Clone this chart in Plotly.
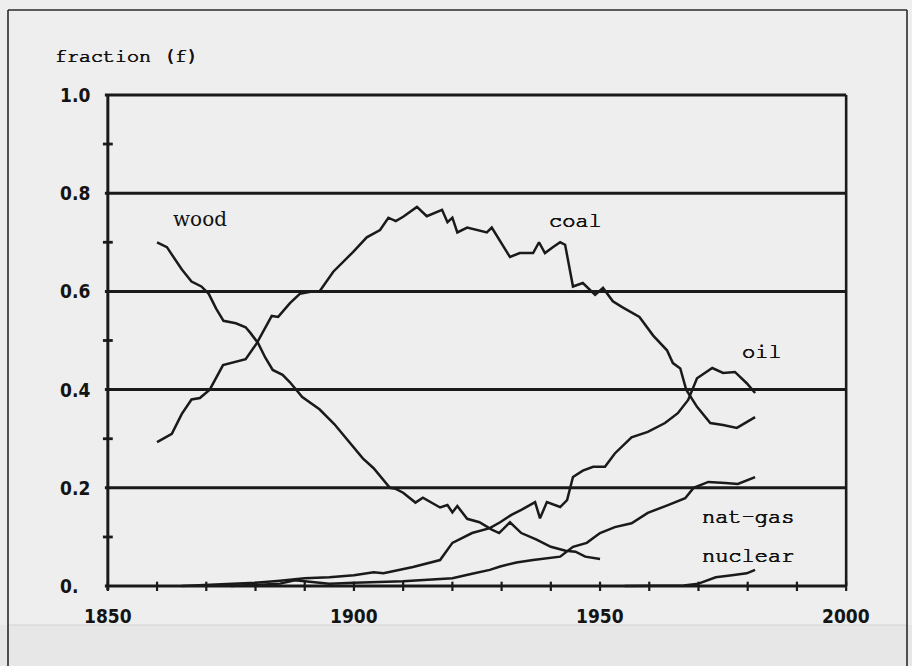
import plotly.graph_objects as go

# ---------------- data ----------------
wood_years = [1860, 1862, 1865, 1867, 1869, 1870.5, 1872, 1873.5, 1876, 1878, 1879, 1880.5,
              1882, 1883.5, 1885.5, 1887, 1889.5, 1891.7, 1893, 1896, 1898.5, 1901.8, 1904,
              1906, 1907.3, 1908.5, 1910, 1912.5, 1914, 1917.5, 1919, 1920, 1921, 1923,
              1925.5, 1928, 1929.5, 1931.7, 1934, 1937, 1940, 1943, 1945, 1947, 1950]
wood_vals = [0.70, 0.69, 0.645, 0.62, 0.61, 0.595, 0.565, 0.54, 0.535, 0.527, 0.515, 0.495,
             0.465, 0.44, 0.43, 0.415, 0.385, 0.37, 0.36, 0.33, 0.30, 0.26, 0.24,
             0.216, 0.20, 0.198, 0.19, 0.17, 0.18, 0.16, 0.165, 0.15, 0.163, 0.137,
             0.13, 0.115, 0.108, 0.13, 0.108, 0.095, 0.08, 0.072, 0.07, 0.06, 0.055]

coal_years = [1860, 1862, 1863, 1865, 1867, 1868.7, 1870.7, 1873.4, 1875, 1878, 1880.3,
              1883.3, 1884.6, 1887, 1889, 1891.7, 1893, 1895.8, 1899.8, 1902.6, 1905.3,
              1907, 1908.5, 1910, 1912.8, 1914.8, 1917.9, 1919, 1920, 1921, 1923, 1927,
              1928, 1931.7, 1933.7, 1936.4, 1937.6, 1938.8, 1940.4, 1941.9, 1942.9, 1944.5,
              1946.5, 1949, 1950.6, 1952.6, 1954.5, 1956.7, 1958, 1960.8, 1963.6, 1964.8,
              1966.3, 1967.5, 1969.7, 1972.4, 1975, 1977.8, 1979.8, 1981.5]
coal_vals = [0.293, 0.305, 0.31, 0.35, 0.38, 0.383, 0.40, 0.45, 0.454, 0.462, 0.495,
             0.55, 0.548, 0.576, 0.595, 0.60, 0.60, 0.64, 0.68, 0.71, 0.725,
             0.75, 0.743, 0.752, 0.772, 0.753, 0.766, 0.741, 0.75, 0.72, 0.73, 0.72,
             0.73, 0.67, 0.678, 0.678, 0.70, 0.678, 0.69, 0.70, 0.695, 0.61,
             0.617, 0.593, 0.607, 0.58, 0.568, 0.556, 0.548, 0.51, 0.48, 0.454,
             0.443, 0.40, 0.365, 0.332, 0.328, 0.322, 0.334, 0.344]

oil_years = [1865, 1870, 1875, 1880, 1885, 1890, 1895, 1900, 1904, 1906, 1912, 1916,
             1917.5, 1920, 1924, 1927.6, 1929.7, 1932, 1934, 1936.8, 1937.8, 1939.2,
             1941.9, 1943.3, 1944.5, 1946.5, 1948.6, 1951, 1953, 1956.4, 1959.7, 1963.2,
             1965.8, 1967.9, 1968.7, 1969.7, 1972.8, 1975, 1977.4, 1979.8, 1981.5]
oil_vals = [0.0, 0.002, 0.004, 0.007, 0.011, 0.016, 0.018, 0.022, 0.028, 0.026, 0.039, 0.05,
            0.053, 0.088, 0.108, 0.118, 0.13, 0.145, 0.155, 0.171, 0.138, 0.171,
            0.161, 0.175, 0.222, 0.235, 0.243, 0.243, 0.27, 0.303, 0.314, 0.332,
            0.352, 0.379, 0.40, 0.423, 0.444, 0.434, 0.436, 0.413, 0.393]

gas_years = [1875, 1880, 1885, 1888, 1891, 1895, 1900, 1905, 1910, 1915, 1920, 1924,
             1927.6, 1929.7, 1933, 1936.4, 1939, 1941.9, 1944.5, 1947.3, 1950, 1953,
             1956.4, 1959.7, 1963.8, 1967.3, 1969, 1972, 1975.5, 1978, 1981.5]
gas_vals = [0.0, 0.002, 0.005, 0.012, 0.009, 0.005, 0.007, 0.008, 0.01, 0.013, 0.016, 0.025,
            0.033, 0.04, 0.048, 0.053, 0.057, 0.06, 0.08, 0.088, 0.108, 0.12,
            0.128, 0.149, 0.165, 0.179, 0.20, 0.212, 0.21, 0.208, 0.222]

nuclear_years = [1955, 1960, 1965, 1967, 1970, 1973.5, 1976.8, 1979.8, 1981.5]
nuclear_vals = [0.0, 0.0, 0.0, 0.001, 0.005, 0.018, 0.022, 0.026, 0.033]

x_tick_labels = ["1850", "1900", "1950", "2000"]
x_tick_vals = [1850, 1900, 1950, 2000]
x_minor_ticks = list(range(1850, 2001, 10))
y_tick_vals = [0.0, 0.2, 0.4, 0.6, 0.8, 1.0]
y_tick_labels = ["0.", "0.2", "0.4", "0.6", "0.8", "1.0"]
y_minor_ticks = [0.1, 0.3, 0.5, 0.7, 0.9]

series = [
    ("wood", wood_years, wood_vals),
    ("coal", coal_years, coal_vals),
    ("oil", oil_years, oil_vals),
    ("nat-gas", gas_years, gas_vals),
    ("nuclear", nuclear_years, nuclear_vals),
]

# ---------------- styling ----------------
W, H = 912, 666
ML, MR, MT, MB = 98, 56, 90, 75
INK = "#1a1a1a"
BG = "#eeeeee"
MONO = "Nimbus Mono PS, FreeMono, Liberation Mono, Courier New, monospace"
TICKFONT = "DejaVu Sans Condensed, Liberation Sans Narrow, Arial Narrow, sans-serif"
THICK = "0.45px 0 0 #161616, -0.45px 0 0 #161616, 0 0.3px 0 #161616"

PW = W - ML - MR
PH = H - MT - MB


def pxx(p):
    return (p - ML) / PW


def pxy(p):
    return (H - MB - p) / PH


fig = go.Figure()

for name, xs, ys in series:
    fig.add_trace(go.Scatter(x=xs, y=ys, mode="lines", name=name,
                             line=dict(color=INK, width=2.5, shape="linear"),
                             showlegend=False, hoverinfo="x+y+name"))

shapes = []
# lower scanned band
shapes.append(dict(type="rect", xref="paper", yref="paper", x0=pxx(-5), x1=pxx(W + 5),
                   y0=pxy(H + 5), y1=pxy(625), fillcolor="#e7e7e7", line=dict(width=0),
                   layer="below"))
shapes.append(dict(type="line", xref="paper", yref="paper", x0=pxx(8), x1=pxx(907),
                   y0=pxy(625), y1=pxy(625), line=dict(color="#d4d4d4", width=1),
                   layer="below"))
# outer frame (left, top, right)
for (a, b, c, d) in [(8, 10, 8, H + 5), (8, 10, 907, 10), (907, 10, 907, H + 5)]:
    shapes.append(dict(type="line", xref="paper", yref="paper", x0=pxx(a), y0=pxy(b),
                       x1=pxx(c), y1=pxy(d), line=dict(color="#2a2a2a", width=1.6)))

# horizontal grid lines at major y ticks (also the x axis and the top line)
for v in y_tick_vals:
    shapes.append(dict(type="line", xref="x", yref="y", x0=1849.4, x1=2000, y0=v, y1=v,
                       line=dict(color=INK, width=3)))
# left axis and right border
shapes.append(dict(type="line", xref="x", yref="y", x0=1850, x1=1850, y0=-0.008, y1=1.0,
                   line=dict(color=INK, width=3)))
shapes.append(dict(type="line", xref="x", yref="y", x0=2000, x1=2000, y0=0, y1=1.0,
                   line=dict(color=INK, width=2.6)))
# minor y ticks crossing the left axis
for v in y_minor_ticks:
    shapes.append(dict(type="line", xref="x", yref="y", x0=1849.0, x1=1851.0, y0=v, y1=v,
                       line=dict(color=INK, width=2.8)))
# x ticks crossing the bottom axis
for v in x_minor_ticks:
    shapes.append(dict(type="line", xref="x", yref="y", x0=v, x1=v, y0=-0.010, y1=0.009,
                       line=dict(color=INK, width=2.2)))

annotations = []
# y tick labels (left aligned, like the original)
for v, t in zip(y_tick_vals, y_tick_labels):
    annotations.append(dict(xref="paper", yref="y", x=pxx(58), y=v, text="<b>%s</b>" % t,
                            xanchor="left", yanchor="middle", showarrow=False,
                            font=dict(family=TICKFONT, size=19, color="#141414")))
# x tick labels
for v, t in zip(x_tick_vals, x_tick_labels):
    annotations.append(dict(xref="x", yref="paper", x=v, y=pxy(616), text="<b>%s</b>" % t,
                            xanchor="center", yanchor="middle", showarrow=False,
                            font=dict(family=TICKFONT, size=19, color="#141414")))
# axis title
annotations.append(dict(xref="paper", yref="paper", x=pxx(53), y=pxy(56),
                        text="fraction (f)", xanchor="left", yanchor="middle",
                        showarrow=False,
                        font=dict(family=MONO, size=20, color="#111111", shadow=THICK)))
# series labels
label_pos = {
    "wood": (1868.7, 0.748, "DejaVu Serif, serif", 20),
    "coal": (1945.1, 0.745, MONO, 22),
    "oil": (1983.0, 0.479, MONO, 22),
    "nat-gas": (1980.1, 0.143, MONO, 22),
    "nuclear": (1980.1, 0.063, MONO, 22),
}
for name, (lx, ly, fam, sz) in label_pos.items():
    annotations.append(dict(xref="x", yref="y", x=lx, y=ly, text=name, xanchor="center",
                            yanchor="middle", showarrow=False,
                            font=dict(family=fam, size=sz, color="#111111",
                                      shadow=THICK if fam == MONO else "none")))

fig.update_layout(
    width=W, height=H,
    margin=dict(l=ML, r=MR, t=MT, b=MB),
    paper_bgcolor=BG, plot_bgcolor=BG,
    xaxis=dict(range=[1848, 2002], showgrid=False, zeroline=False, showline=False,
               showticklabels=False, ticks="", fixedrange=True),
    yaxis=dict(range=[-0.01, 1.01], showgrid=False, zeroline=False, showline=False,
               showticklabels=False, ticks="", fixedrange=True),
    shapes=shapes,
    annotations=annotations,
    showlegend=False,
)

fig.write_html("out.html", config={"displayModeBar": False},
               post_script="document.body.style.margin='0';"
                           "document.body.style.background='%s';" % BG)
